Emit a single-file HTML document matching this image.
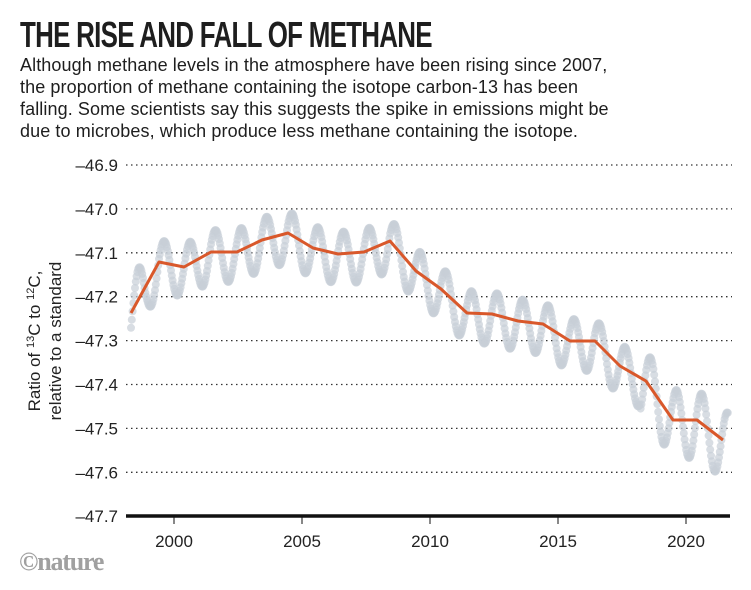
<!DOCTYPE html>
<html><head><meta charset="utf-8"><style>
body{margin:0;background:#fff;width:751px;height:590px;overflow:hidden;font-family:"Liberation Sans",sans-serif;color:#222}
.t{position:absolute;left:20px;top:14px;font-size:36px;font-weight:bold;letter-spacing:-1px;transform:scaleX(0.72);transform-origin:left top;white-space:nowrap;color:#1e1e1e}
.s{position:absolute;left:20px;top:54px;font-size:18px;line-height:22px;width:740px;color:#1e1e1e;letter-spacing:0.1px}
</style></head><body>
<div class="t">THE RISE AND FALL OF METHANE</div>
<div class="s">Although methane levels in the atmosphere have been rising since 2007,<br>the proportion of methane containing the isotope carbon-13 has been<br>falling. Some scientists say this suggests the spike in emissions might be<br>due to microbes, which produce less methane containing the isotope.</div>
<svg id="c" width="751" height="590" style="position:absolute;left:0;top:0" xmlns="http://www.w3.org/2000/svg">
<g id="grid" stroke="#333" stroke-width="1.3" stroke-dasharray="1.5,3.5"></g>
<g id="dots" fill="#c8cfd7" fill-opacity="0.7"></g>
<polyline fill="none" stroke="#d9582b" stroke-width="3" stroke-linejoin="round" points="131,313 159,262 184,267 211,252 237,252 262,240 288,233 313,248 338,254 364,252 390,241 416,271 441,289 467,313 492,314 518,321 543,324 570,341 595,341 620,366 646,381 673,420 697,420 723,440"/>
<line x1="126" y1="516" x2="730" y2="516" stroke="#111" stroke-width="3.5"/>
<g id="ax" font-size="17" fill="#222"></g>
<text transform="translate(40,341) rotate(-90)" text-anchor="middle" font-size="17" fill="#222">Ratio of <tspan font-size="11" dy="-6">13</tspan><tspan dy="6">C to </tspan><tspan font-size="11" dy="-6">12</tspan><tspan dy="6">C,</tspan></text>
<text transform="translate(61,341) rotate(-90)" text-anchor="middle" font-size="17" fill="#222">relative to a standard</text>
<text x="19" y="570" font-family="Liberation Serif,serif" font-weight="bold" font-size="26" fill="#a0a0a0" letter-spacing="-1.2">©nature</text>
</svg>
<script>
var ns="http://www.w3.org/2000/svg";
function el(p,t,a,txt){var e=document.createElementNS(ns,t);for(var k in a)e.setAttribute(k,a[k]);if(txt)e.textContent=txt;document.getElementById(p).appendChild(e);}
var labs=["–46.9","–47.0","–47.1","–47.2","–47.3","–47.4","–47.5","–47.6","–47.7"];
for(var i=0;i<9;i++){var y=165+i*43.9;if(i<8)el("grid","line",{x1:126,x2:732,y1:y,y2:y});el("ax","text",{x:118,y:y+6,"text-anchor":"end"},labs[i]);}
for(var yr=2000;yr<=2020;yr+=5){var x=174+(yr-2000)*25.6;el("ax","line",{x1:x,x2:x,y1:516,y2:524,stroke:"#111","stroke-width":1});el("ax","text",{x:x,y:547,"text-anchor":"middle"},""+yr);}
var P=[[131,313],[159,262],[184,267],[211,252],[237,252],[262,240],[288,233],[313,248],[338,254],[364,252],[390,241],[416,271],[441,289],[467,313],[492,314],[518,321],[543,324],[570,341],[595,341],[620,366],[646,381],[673,420],[697,420],[723,440],[730,444]];
function tr(x){for(var i=0;i<P.length-1;i++){if(x<=P[i+1][0]){var f=(x-P[i][0])/(P[i+1][0]-P[i][0]);return P[i][1]+f*(P[i+1][1]-P[i][1]);}}return P[P.length-1][1];}
for(var x=131;x<=728;x+=0.8){var yr=1998.5+(x-131)/25.6;var A=x>640?34:(x<145?35:26);var y=tr(x)+4+A*Math.sin(2*Math.PI*(yr-0.05));el("dots","circle",{cx:x.toFixed(1),cy:y.toFixed(1),r:4});}
</script>
</body></html>
